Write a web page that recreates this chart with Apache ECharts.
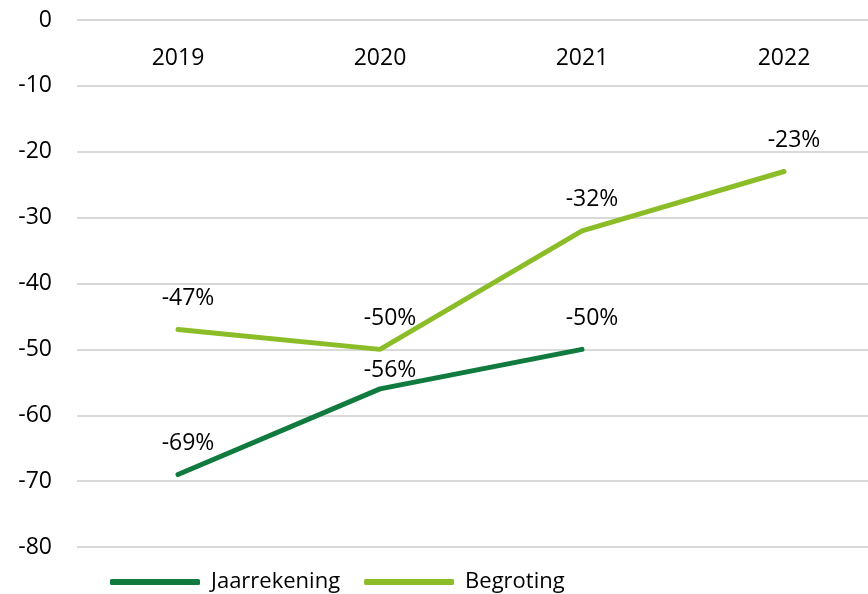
<!DOCTYPE html>
<html><head><meta charset="utf-8">
<script src="https://cdn.jsdelivr.net/npm/echarts@6/dist/echarts.min.js"></script>
<style>html,body{margin:0;padding:0;background:#fff}#c{width:868px;height:594px}</style>
</head><body><div id="c"></div>
<script>
var categories = ['2019', '2020', '2021', '2022'];
var jaarrekening = [-69, -56, -50, null];
var begroting = [-47, -50, -32, -23];
var yTicks = {min: -80, max: 0, interval: 10};

var font = '"Open Sans", "Noto Sans", sans-serif';
var chart = echarts.init(document.getElementById('c'), null, {renderer: 'canvas'});
var lbl = {show: true, position: 'top', distance: 19, offset: [10, 0], fontSize: 23, color: '#000', fontFamily: font,
  formatter: function(p){return p.value + '%';}};
// the 2020 Jaarrekening label sits closer to its point (avoids the Begroting label)
var jaarData = jaarrekening.map(function(v, i){
  return i === 1 ? {value: v, label: {distance: 6}} : v;
});
chart.setOption({
  animation: false,
  textStyle: {fontFamily: font},
  grid: {left: 77, top: 20, width: 808, height: 527, containLabel: false, outerBoundsMode: 'none'},
  xAxis: {
    type: 'category', data: categories, position: 'top', boundaryGap: true,
    axisLine: {show: false}, axisTick: {show: false},
    axisLabel: {inside: true, margin: 27, fontSize: 23, color: '#000', fontFamily: font}
  },
  yAxis: {
    type: 'value', min: yTicks.min, max: yTicks.max, interval: yTicks.interval,
    axisLine: {show: false}, axisTick: {show: false},
    axisLabel: {margin: 25, fontSize: 23, color: '#000', fontFamily: font},
    splitLine: {lineStyle: {color: '#d9d9d9', width: 2}}
  },
  legend: {
    left: 105, top: 566, itemWidth: 90, itemHeight: 6, itemGap: 24, icon: 'roundRect',
    textStyle: {fontSize: 22, color: '#000', fontFamily: font, padding: [0, 0, 0, 6]},
    data: ['Jaarrekening', 'Begroting']
  },
  series: [
    {name: 'Jaarrekening', type: 'line', data: jaarData, symbol: 'circle', symbolSize: 1, showSymbol: true,
     lineStyle: {color: '#117a3e', width: 5, cap: 'round'}, itemStyle: {color: '#117a3e'}, label: lbl},
    {name: 'Begroting', type: 'line', data: begroting, symbol: 'circle', symbolSize: 1, showSymbol: true,
     lineStyle: {color: '#8bbd28', width: 5, cap: 'round'}, itemStyle: {color: '#8bbd28'}, label: lbl}
  ]
});
</script></body></html>
